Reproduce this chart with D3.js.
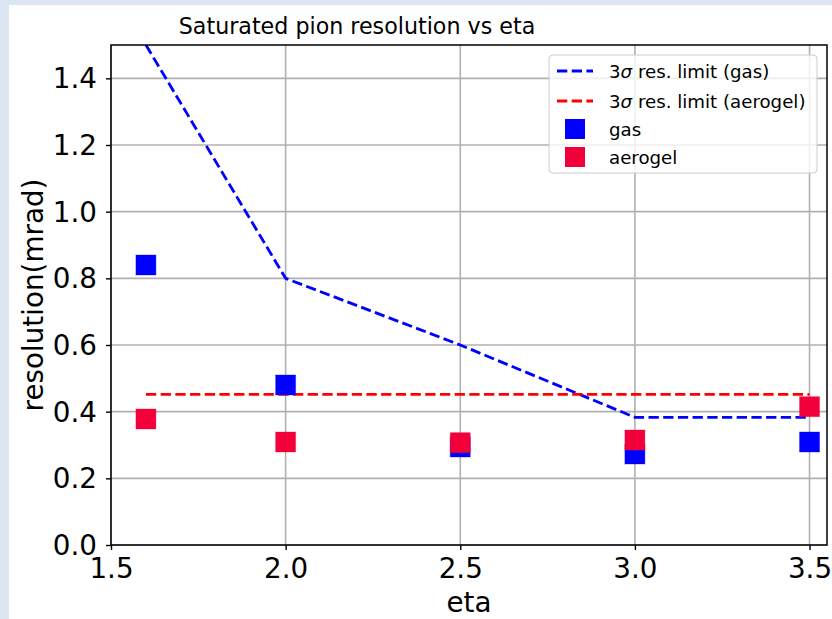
<!DOCTYPE html>
<html>
<head>
<meta charset="utf-8">
<script src="https://d3js.org/d3.v7.min.js"></script>
<style>
	body { margin: 0; background: #dce6f2; }
	svg { display: block; }
	text { font-family: "DejaVu Sans", sans-serif; fill: #000; }
	.grid line { stroke: #b0b0b0; stroke-width: 1.6; }
	.axis path { display: none; }
	.axis line { stroke: #000; stroke-width: 1.4; }
	.axis text { font-size: 27.8px; }
</style>
</head>
<body>
<script>

// eta points
var eta = [1.6, 2.0, 2.5, 3.0, 3.5];

// measured resolutions (mrad)
var gasRes = [0.84, 0.48, 0.294, 0.273, 0.309];
var aerogelRes = [0.378, 0.309, 0.307, 0.315, 0.415];

// 3 sigma resolution limits
var gasLimit = [1.5, 0.8, 0.6, 0.383, 0.383];
var aerogelLimit = [0.452, 0.452, 0.452, 0.452, 0.452];

var xTicks = [1.5, 2.0, 2.5, 3.0, 3.5];
var yTicks = [0.0, 0.2, 0.4, 0.6, 0.8, 1.0, 1.2, 1.4];

var legendItems = [
	{ kind: "line", color: "#0000ff", pre: "3", label: " res. limit (gas)" },
	{ kind: "line", color: "#ff0000", pre: "3", label: " res. limit (aerogel)" },
	{ kind: "mark", color: "#0000ff", label: "gas" },
	{ kind: "mark", color: "#f2003a", label: "aerogel" }
];

var width = 832,
	height = 619;

var pl = 111, pr = 827, pt = 45, pb = 545;

var svg = d3.select("body").append("svg")
	.attr("width", width)
	.attr("height", height);

svg.append("rect")
	.attr("x", 9).attr("y", 5)
	.attr("width", width - 9).attr("height", height - 5)
	.attr("fill", "#fff");

var x = d3.scaleLinear().domain([1.5, 3.55]).range([pl, pr]);
var y = d3.scaleLinear().domain([0, 1.5]).range([pb, pt]);

svg.append("defs").append("clipPath").attr("id", "plot")
	.append("rect")
	.attr("x", pl).attr("y", pt)
	.attr("width", pr - pl).attr("height", pb - pt);

// grid
var grid = svg.append("g").attr("class", "grid");
grid.selectAll(".gx").data(xTicks).enter().append("line")
	.attr("x1", d => x(d)).attr("x2", d => x(d))
	.attr("y1", pt).attr("y2", pb);
grid.selectAll(".gy").data(yTicks).enter().append("line")
	.attr("x1", pl).attr("x2", pr)
	.attr("y1", d => y(d)).attr("y2", d => y(d));

// limit lines
var line = d3.line()
	.x(d => x(d[0]))
	.y(d => y(d[1]));

var plot = svg.append("g").attr("clip-path", "url(#plot)");

plot.append("path")
	.datum(d3.zip(eta, gasLimit))
	.attr("d", line)
	.attr("fill", "none")
	.attr("stroke", "#0000ff")
	.attr("stroke-width", 2.8)
	.attr("stroke-dasharray", "10.3,4.4");

plot.append("path")
	.datum(d3.zip(eta, aerogelLimit))
	.attr("d", line)
	.attr("fill", "none")
	.attr("stroke", "#ff0000")
	.attr("stroke-width", 2.8)
	.attr("stroke-dasharray", "10.3,4.4");

// scatter markers
var ms = 20;
function drawMarks(vals, color) {
	svg.append("g").selectAll("rect")
		.data(d3.zip(eta, vals))
		.enter().append("rect")
		.attr("x", d => x(d[0]) - ms / 2)
		.attr("y", d => y(d[1]) - ms / 2)
		.attr("width", ms)
		.attr("height", ms)
		.attr("fill", color)
		.attr("stroke", color)
		.attr("stroke-opacity", 0.35)
		.attr("stroke-width", 1);
}
drawMarks(gasRes, "#0000ff");
drawMarks(aerogelRes, "#f2003a");

// spines
svg.append("rect")
	.attr("x", pl).attr("y", pt)
	.attr("width", pr - pl).attr("height", pb - pt)
	.attr("fill", "none")
	.attr("stroke", "#000")
	.attr("stroke-width", 1.5);

// axes
svg.append("g")
	.attr("class", "axis")
	.attr("transform", "translate(0," + pb + ")")
	.call(d3.axisBottom(x).tickValues(xTicks).tickFormat(d3.format(".1f")).tickSize(5).tickPadding(8.3));

svg.append("g")
	.attr("class", "axis")
	.attr("transform", "translate(" + pl + ",0)")
	.call(d3.axisLeft(y).tickValues(yTicks).tickFormat(d3.format(".1f")).tickSize(5).tickPadding(9))
	.selectAll("text").attr("dy", "0.34em");

// labels
svg.append("text")
	.attr("x", 357)
	.attr("y", 34)
	.attr("text-anchor", "middle")
	.style("font-size", "22.2px")
	.text("Saturated pion resolution vs eta");

svg.append("text")
	.attr("x", (pl + pr) / 2)
	.attr("y", 612)
	.attr("text-anchor", "middle")
	.style("font-size", "27.8px")
	.text("eta");

svg.append("text")
	.attr("transform", "translate(43," + ((pt + pb) / 2) + ") rotate(-90)")
	.attr("text-anchor", "middle")
	.style("font-size", "27.8px")
	.text("resolution(mrad)");

// legend
var lg = svg.append("g").attr("transform", "translate(549,55)");
lg.append("rect")
	.attr("width", 268).attr("height", 118)
	.attr("rx", 4)
	.attr("fill", "#fff")
	.attr("fill-opacity", 0.8)
	.attr("stroke", "#cccccc")
	.attr("stroke-width", 1);

var rowY = [16, 46, 74, 102];
var entry = lg.selectAll(".entry")
	.data(legendItems)
	.enter().append("g")
	.attr("transform", (d, i) => "translate(0," + rowY[i] + ")");

entry.filter(d => d.kind == "line").append("line")
	.attr("x1", 8).attr("x2", 44)
	.attr("y1", 0).attr("y2", 0)
	.attr("stroke", d => d.color)
	.attr("stroke-width", 2.8)
	.attr("stroke-dasharray", "10.3,4.4");

entry.filter(d => d.kind == "mark").append("rect")
	.attr("x", 26 - ms / 2).attr("y", -ms / 2)
	.attr("width", ms).attr("height", ms)
	.attr("fill", d => d.color);

var txt = entry.append("text")
	.attr("x", 60)
	.attr("y", 6.5)
	.style("font-size", "18.2px");
txt.filter(d => d.pre).append("tspan").text(d => d.pre);
txt.filter(d => d.pre).append("tspan").style("font-style", "italic").text("\u03c3");
txt.append("tspan").text(d => d.label);

</script>
</body>
</html>
